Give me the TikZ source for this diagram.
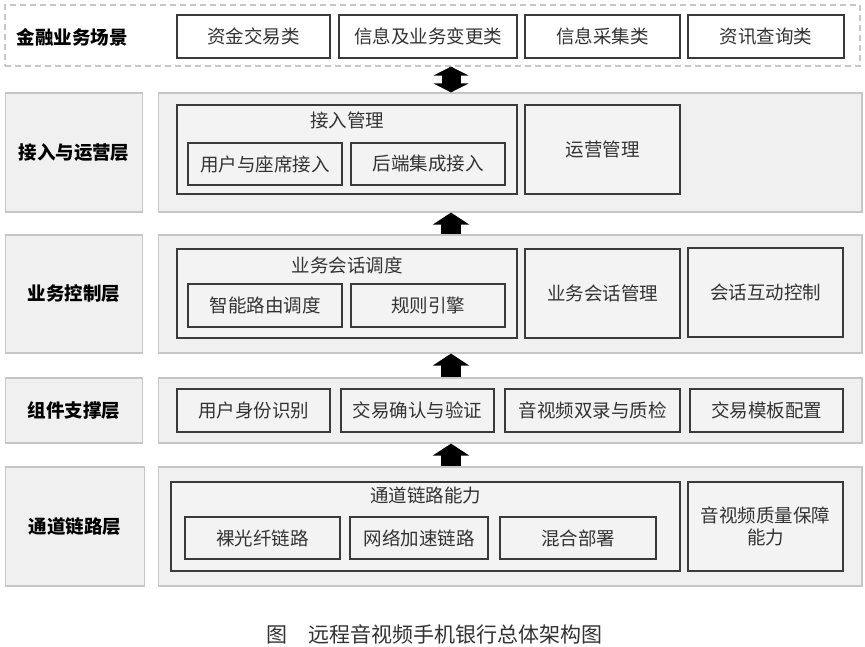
\documentclass[tikz,border=0pt]{standalone}
\usepackage{fontspec}
\setmainfont{Noto Sans CJK SC}
\usetikzlibrary{arrows.meta,positioning}
\definecolor{layerfill}{HTML}{F0F0F0}
\definecolor{layerline}{HTML}{C6C6C6}
\definecolor{boxline}{HTML}{3A3A3A}
\definecolor{boxfill}{HTML}{F3F3F3}
\definecolor{txt}{HTML}{333333}
\begin{document}
\begin{tikzpicture}[x=1pt,y=-1pt,
  layer/.style={draw=layerline, line width=1.2pt, fill=layerfill, inner sep=0pt},
  item/.style={draw=boxline, line width=1.4pt, fill=boxfill, text=txt, inner sep=0pt, font=\fontsize{18.5}{22}\selectfont, align=center},
  scen/.style={item, fill=white, minimum height=43pt},
  lbl/.style={font=\fontsize{18.5}{22}\selectfont\bfseries},
  ttl/.style={text=txt, font=\fontsize{18.5}{22}\selectfont, inner sep=0pt},
  uparrow/.style={line width=20pt, -{Triangle[width=36pt,length=12pt]}},
  bothway/.style={line width=19pt, {Triangle[width=35pt,length=9pt]}-{Triangle[width=35pt,length=9pt]}}]
  \useasboundingbox[fill=white] (0,0) rectangle (865,646);
  \coordinate (ax) at (451,0);
  \node[draw=layerline, dashed, dash pattern=on 6pt off 4pt, line width=1.2pt, minimum width=855pt, minimum height=61pt, inner sep=0pt] (scene) at (432.5,35.5) {};
  \node[lbl] (scenelbl) at (72,37) {金融业务场景};
  \node[scen, minimum width=153pt] (s1) at (253.5,36.5) {资金交易类};
  \node[scen, minimum width=178pt] (s2) at (428,36.5) {信息及业务变更类};
  \node[scen, minimum width=155pt] (s3) at (602.5,36.5) {信息采集类};
  \node[scen, minimum width=156pt] (s4) at (766,36.5) {资讯查询类};

  \node[layer, minimum width=137pt, minimum height=119pt, lbl] (acclbl) at (74,152.5) {接入与运营层};
  \node[layer, minimum width=703.5pt, minimum height=119pt] (acclayer) at (510.25,152.5) {};
  \node[item, minimum width=340pt, minimum height=89pt] (acc) at (347,149.5) {};
  \node[ttl, below=7pt of acc.north] (acct) {接入管理};
  \node[item, minimum width=154pt, minimum height=42pt] (a1) at (265,164) {用户与座席接入};
  \node[item, minimum width=154pt, minimum height=42pt] (a2) at (428,164) {后端集成接入};
  \node[item, minimum width=155pt, minimum height=89pt] (ops) at (602.5,149.5) {运营管理};

  \node[layer, minimum width=137pt, minimum height=118pt, lbl] (ctllbl) at (74,294) {业务控制层};
  \node[layer, minimum width=703.5pt, minimum height=118pt] (ctllayer) at (510.25,294) {};
  \node[item, minimum width=340pt, minimum height=89pt] (ctl) at (347,293.5) {};
  \node[ttl, below=8pt of ctl.north] (ctlt) {业务会话调度};
  \node[item, minimum width=154pt, minimum height=43pt] (c1) at (265,305.5) {智能路由调度};
  \node[item, minimum width=154pt, minimum height=43pt] (c2) at (428,305.5) {规则引擎};
  \node[item, minimum width=155pt, minimum height=89pt] (c3) at (602.5,293.5) {业务会话管理};
  \node[item, minimum width=155pt, minimum height=89pt] (c4) at (765.5,292.5) {会话互动控制};

  \node[layer, minimum width=137pt, minimum height=65pt, lbl] (complbl) at (74,410.5) {组件支撑层};
  \node[layer, minimum width=703.5pt, minimum height=65pt] (complayer) at (510.25,410.5) {};
  \node[item, minimum width=153pt, minimum height=43pt] (m1) at (253.5,410.5) {用户身份识别};
  \node[item, minimum width=153pt, minimum height=43pt] (m2) at (417.5,410.5) {交易确认与验证};
  \node[item, minimum width=175pt, minimum height=43pt] (m3) at (592.5,410.5) {音视频双录与质检};
  \node[item, minimum width=153pt, minimum height=43pt] (m4) at (766.5,410.5) {交易模板配置};

  \node[layer, minimum width=139pt, minimum height=119pt, lbl] (chanlbl) at (75,526.5) {通道链路层};
  \node[layer, minimum width=703.5pt, minimum height=119pt] (chanlayer) at (510.25,526.5) {};
  \node[item, minimum width=509pt, minimum height=89pt] (chan) at (425.5,526.5) {};
  \node[ttl, below=5pt of chan.north] (chant) {通道链路能力};
  \node[item, minimum width=155pt, minimum height=42pt] (h1) at (262.5,538) {裸光纤链路};
  \node[item, minimum width=138pt, minimum height=42pt] (h2) at (419,538) {网络加速链路};
  \node[item, minimum width=156pt, minimum height=42pt] (h3) at (578,538) {混合部署};
  \node[item, minimum width=155pt, minimum height=89pt, font=\fontsize{18.5}{22}\selectfont] (qos) at (765.5,526.5) {音视频质量保障\\能力};

  \draw[bothway] (acclayer.north -| ax) -- (scene.south -| ax);
  \draw[uparrow] (ctllayer.north -| ax) -- (acclayer.south -| ax);
  \draw[uparrow] (complayer.north -| ax) -- (ctllayer.south -| ax);
  \draw[uparrow] (chanlayer.north -| ax) -- (complayer.south -| ax);

  \node[text=txt, font=\fontsize{21}{24}\selectfont] (cap) at (434,634) {图\quad 远程音视频手机银行总体架构图};
\end{tikzpicture}
\end{document}
